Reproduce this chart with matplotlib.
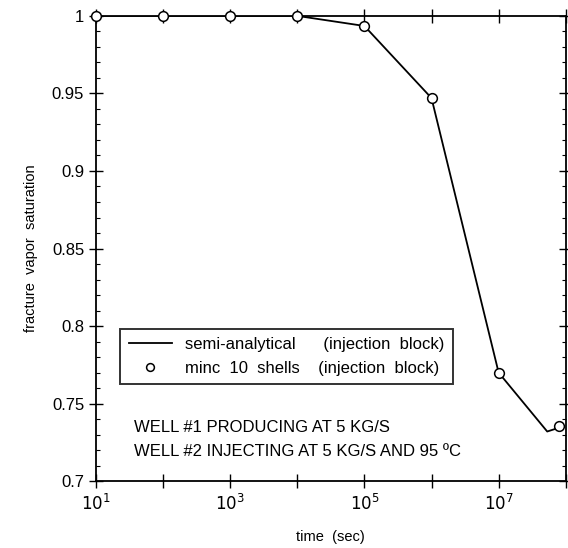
import matplotlib
matplotlib.use("Agg")
import matplotlib.pyplot as plt
from matplotlib.ticker import FixedLocator, MultipleLocator, NullFormatter

plt.rcParams['font.family'] = ['Liberation Sans', 'DejaVu Sans']

# semi-analytical (injection block)
line_t = [1e1, 1e2, 1e3, 1e4, 1e5, 1e6, 1e7, 5.3e7, 8e7]
line_s = [1.0, 1.0, 1.0, 1.0, 0.9935, 0.947, 0.770, 0.732, 0.7345]

# minc 10 shells (injection block)
minc_t = [1e1, 1e2, 1e3, 1e4, 1e5, 1e6, 1e7, 8e7]
minc_s = [1.0, 1.0, 1.0, 1.0, 0.9935, 0.947, 0.770, 0.7355]

y_ticks = [0.7, 0.75, 0.8, 0.85, 0.9, 0.95, 1.0]
y_labels = ['0.7', '0.75', '0.8', '0.85', '0.9', '0.95', '1']
x_major = [1e1, 1e2, 1e3, 1e4, 1e5, 1e6, 1e7, 1e8]
x_labels = ['$10^1$', '', '$10^3$', '', '$10^5$', '', '$10^7$', '']

fig = plt.figure(figsize=(5.68, 5.48), dpi=100)
ax = fig.add_axes([0.169, 0.122, 0.827, 0.849])

ax.plot(line_t, line_s, color='black', lw=1.3,
        label='semi-analytical      (injection  block)')
ax.plot(minc_t, minc_s, 'o', mfc='white', mec='black', ms=7, mew=1.1,
        label='minc  10  shells    (injection  block)', clip_on=False, zorder=3)

ax.set_xscale('log')
ax.set_xlim(1e1, 1e8)
ax.set_ylim(0.7, 1.0)

ax.xaxis.set_major_locator(FixedLocator(x_major))
ax.set_xticklabels(x_labels)
ax.xaxis.set_minor_formatter(NullFormatter())
ax.xaxis.set_minor_locator(FixedLocator([]))
ax.set_yticks(y_ticks)
ax.set_yticklabels(y_labels)
ax.yaxis.set_minor_locator(MultipleLocator(0.01))

ax.tick_params(which='major', direction='inout', length=10, width=1.0,
               top=True, right=True, labelsize=12)
ax.tick_params(which='minor', direction='in', length=3, width=0.8, right=True)
for sp in ax.spines.values():
    sp.set_linewidth(1.3)

ax.set_xlabel('time  (sec)', fontsize=10.5, labelpad=12)
ax.set_ylabel('fracture  vapor  saturation', fontsize=10.5, labelpad=10)

leg = ax.legend(loc='upper left', bbox_to_anchor=(0.034, 0.345), fontsize=12,
                frameon=True, fancybox=False, edgecolor='black', markerscale=0.8,
                handlelength=2.6, borderpad=0.5, labelspacing=0.5)
leg.get_frame().set_linewidth(1.4)

ax.text(0.08, 0.115, 'WELL #1 PRODUCING AT 5 KG/S', transform=ax.transAxes,
        fontsize=12, va='center')
ax.text(0.08, 0.063, 'WELL #2 INJECTING AT 5 KG/S AND 95 ºC', transform=ax.transAxes,
        fontsize=12, va='center')

fig.savefig('out.png', dpi=100)
